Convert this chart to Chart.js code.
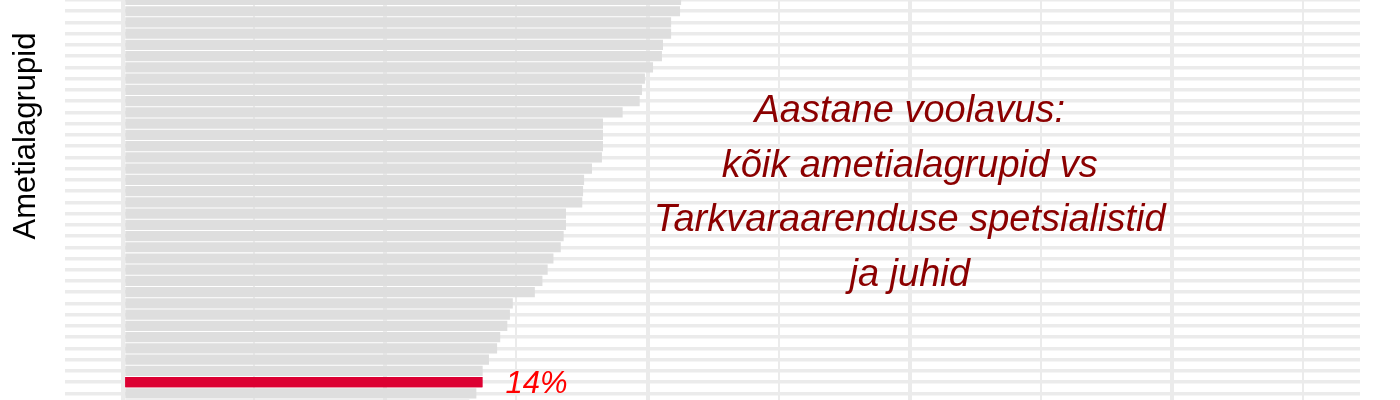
<!DOCTYPE html>
<html>
<head>
<meta charset="utf-8">
<script src="https://cdn.jsdelivr.net/npm/chart.js@4.4.1/dist/chart.umd.min.js"></script>
<style>
html, body { margin: 0; padding: 0; background: #ffffff; }
#wrap { width: 1400px; height: 400px; position: relative; }
</style>
</head>
<body>
<div id="wrap"><canvas id="c"></canvas></div>
<script>
// Row positions of the occupational groups visible in the crop (top to bottom)
const rowPositions = [0, 1, 2, 3, 4, 5, 6, 7, 8, 9, 10, 11, 12, 13, 14, 15, 16, 17, 18,
                      19, 20, 21, 22, 23, 24, 25, 26, 27, 28, 29, 30, 31, 32, 33, 34, 35, 36];
// Annual turnover (%) per occupational group
const turnover = [21.28, 21.24, 20.90, 20.90, 20.59, 20.55, 20.21, 19.90, 19.79, 19.70,
                  19.05, 18.30, 18.30, 18.30, 18.26, 17.88, 17.58, 17.54, 17.51, 16.89,
                  16.89, 16.80, 16.69, 16.41, 16.19, 15.99, 15.70, 14.86, 14.75, 14.65,
                  14.38, 14.26, 13.95, 13.71, 13.70, 13.47, 13.20];
const highlightIndex = 34; // Tarkvaraarenduse spetsialistid ja juhid
const highlightLabel = '14%';
const xTickValues = [0, 5, 10, 15, 20, 25, 30, 35, 40, 45];
const yAxisTitle = 'Ametialagrupid';
const annotationLines = ['Aastane voolavus:', 'kõik ametialagrupid vs', 'Tarkvaraarenduse spetsialistid', 'ja juhid'];

const FONT = '"Liberation Sans", Arial, Helvetica, sans-serif';
const GREY = '#DEDEDE';
const RED = '#DC0032';

const textPlugin = {
  id: 'texts',
  afterDraw(chart) {
    const { ctx } = chart;
    const xs = chart.scales.x, ys = chart.scales.y;
    // highlighted bar drawn above the vertical gridlines
    const meta = chart.getDatasetMeta(0);
    if (meta.data[highlightIndex]) meta.data[highlightIndex].draw(ctx);

    // y axis title
    ctx.save();
    ctx.font = '31px ' + FONT;
    ctx.fillStyle = '#000000';
    ctx.textAlign = 'center';
    ctx.textBaseline = 'alphabetic';
    ctx.translate(35, 136);
    ctx.rotate(-Math.PI / 2);
    ctx.fillText(yAxisTitle, 0, 0);
    ctx.restore();

    // annotation
    ctx.save();
    ctx.font = 'italic 38px ' + FONT;
    ctx.fillStyle = '#8B0000';
    ctx.textAlign = 'center';
    ctx.textBaseline = 'alphabetic';
    const ax = xs.getPixelForValue(30);
    const ay = ys.getPixelForValue(10.855);
    annotationLines.forEach((line, i) => ctx.fillText(line, ax, ay + i * 54.5));
    ctx.restore();

    // highlight value label
    ctx.save();
    ctx.font = 'italic 31px ' + FONT;
    ctx.fillStyle = '#FF0000';
    ctx.textAlign = 'left';
    ctx.textBaseline = 'alphabetic';
    const lx = xs.getPixelForValue(turnover[highlightIndex]) + 23;
    const ly = ys.getPixelForValue(rowPositions[highlightIndex]) + 11;
    ctx.fillText(highlightLabel, lx, ly);
    ctx.restore();
  }
};

new Chart(document.getElementById('c'), {
  type: 'bar',
  data: {
    datasets: [{
      data: turnover.map((v, i) => ({ x: v, y: rowPositions[i] })),
      backgroundColor: turnover.map((v, i) => i === highlightIndex ? RED : GREY),
      borderWidth: 0,
      barPercentage: 0.91,
      categoryPercentage: 1.0
    }]
  },
  options: {
    indexAxis: 'y',
    responsive: true,
    maintainAspectRatio: false,
    animation: false,
    layout: { padding: { left: 0, right: 40, top: 0, bottom: 0 } },
    plugins: { legend: { display: false }, tooltip: { enabled: false } },
    scales: {
      x: {
        type: 'linear', position: 'bottom', min: -2.224, max: 47.18, z: 1, offset: false,
        afterBuildTicks: s => { s.ticks = xTickValues.map(v => ({ value: v })); },
        afterFit: s => { s.height = 0; },
        ticks: { display: false }, border: { display: false },
        grid: { offset: false, color: '#EBEBEB', lineWidth: c => (c.tick && c.tick.value % 10 === 0) ? 4 : 2, drawTicks: false }
      },
      y: {
        type: 'linear', reverse: true, min: 0, max: 35.59, offset: false,
        afterBuildTicks: s => { s.ticks = rowPositions.map(v => ({ value: v })); },
        afterFit: s => { s.width = 65; },
        ticks: { display: false }, border: { display: false },
        grid: { offset: false, color: '#EBEBEB', lineWidth: 3.5, drawTicks: false }
      }
    }
  },
  plugins: [textPlugin]
});
</script>
</body>
</html>
